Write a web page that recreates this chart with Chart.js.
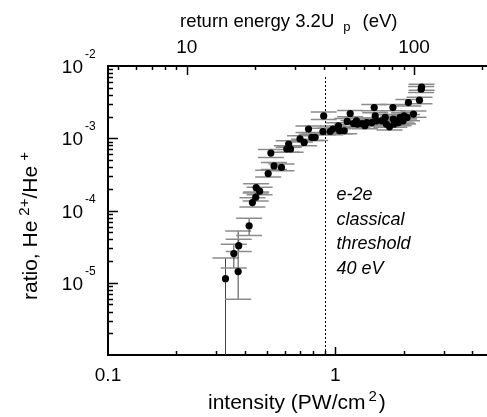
<!DOCTYPE html>
<html lang="en">
<head>
<meta charset="UTF-8">
<title>He2+/He+ ratio vs intensity</title>
<script src="https://cdn.jsdelivr.net/npm/chart.js"></script>
<style>
  html, body { margin: 0; padding: 0; overflow: hidden; background: #fff; }
</style>
</head>
<body>
<canvas id="ratioChart" width="510" height="417"></canvas>
<script>
    // intensity in PW/cm2, ratio He2+/He+, with lower/upper error bounds
    const intensity = [0.329, 0.358, 0.374, 0.376, 0.418, 0.432, 0.447, 0.449, 0.465, 0.507,
        0.521, 0.538, 0.580, 0.612, 0.624, 0.636, 0.70, 0.730, 0.763, 0.789,
        0.816, 0.883, 0.89, 0.95, 0.977, 1.034, 1.045, 1.096, 1.13, 1.164,
        1.204, 1.24, 1.252, 1.311, 1.35, 1.378, 1.45, 1.485, 1.50, 1.52,
        1.606, 1.66, 1.68, 1.734, 1.795, 1.80, 1.82, 1.87, 1.90, 1.93,
        1.96, 1.99, 2.01, 2.07, 2.10, 2.21, 2.35, 2.39, 2.40]
    const ratio = [1.14e-5, 2.53e-5, 1.43e-5, 3.26e-5, 6.15e-5, 1.29e-4, 1.53e-4, 2.07e-4, 1.85e-4, 3.24e-4,
        6.25e-4, 4.14e-4, 3.95e-4, 7.1e-4, 8.3e-4, 7.1e-4, 9.8e-4, 8.75e-4, 1.34e-3, 1.03e-3,
        1.03e-3, 1.24e-3, 2.04e-3, 1.24e-3, 1.34e-3, 1.49e-3, 1.27e-3, 1.27e-3, 1.71e-3, 2.2e-3,
        1.6e-3, 1.74e-3, 1.57e-3, 1.6e-3, 1.49e-3, 1.65e-3, 1.65e-3, 2.66e-3, 2.04e-3, 1.74e-3,
        1.74e-3, 1.94e-3, 1.57e-3, 1.44e-3, 2.66e-3, 1.84e-3, 1.57e-3, 1.74e-3, 1.65e-3, 1.94e-3,
        1.79e-3, 1.74e-3, 2.04e-3, 1.94e-3, 3.12e-3, 2.16e-3, 3.36e-3, 4.77e-3, 5.1e-3]
    const ratioLow = [1e-7, 1.6e-5, 5.9e-6, 2.7e-5, 4.5e-5, 1.12e-4, 1.35e-4, 1.8e-4, 1.65e-4, 2.9e-4,
        5.4e-4, 3.7e-4, 3.55e-4, 6.4e-4, 7.5e-4, 6.4e-4, 8.9e-4, 7.9e-4, 1.2e-3, 9.3e-4,
        9.3e-4, 1.12e-3, 1.82e-3, 1.12e-3, 1.21e-3, 1.35e-3, 1.15e-3, 1.15e-3, 1.55e-3, 1.98e-3,
        1.45e-3, 1.57e-3, 1.42e-3, 1.45e-3, 1.35e-3, 1.49e-3, 1.49e-3, 2.4e-3, 1.84e-3, 1.57e-3,
        1.57e-3, 1.75e-3, 1.42e-3, 1.3e-3, 2.4e-3, 1.66e-3, 1.42e-3, 1.57e-3, 1.49e-3, 1.75e-3,
        1.62e-3, 1.57e-3, 1.84e-3, 1.75e-3, 2.8e-3, 1.95e-3, 3.0e-3, 4.3e-3, 4.6e-3]
    const ratioHigh = [2.2e-5, 3.4e-5, 5.2e-5, 4.0e-5, 7.8e-5, 1.5e-4, 1.75e-4, 2.35e-4, 2.1e-4, 3.6e-4,
        7.0e-4, 4.6e-4, 4.4e-4, 7.9e-4, 9.2e-4, 7.9e-4, 1.08e-3, 9.7e-4, 1.48e-3, 1.14e-3,
        1.14e-3, 1.37e-3, 2.3e-3, 1.37e-3, 1.48e-3, 1.64e-3, 1.4e-3, 1.4e-3, 1.88e-3, 2.42e-3,
        1.76e-3, 1.91e-3, 1.73e-3, 1.76e-3, 1.64e-3, 1.82e-3, 1.82e-3, 2.93e-3, 2.25e-3, 1.91e-3,
        1.91e-3, 2.13e-3, 1.73e-3, 1.58e-3, 2.93e-3, 2.02e-3, 1.73e-3, 1.91e-3, 1.82e-3, 2.13e-3,
        1.97e-3, 1.91e-3, 2.25e-3, 2.13e-3, 3.43e-3, 2.38e-3, 3.7e-3, 5.2e-3, 5.6e-3]

    const thresholdIntensity = 0.9
    const noteLines = ['e-2e', 'classical', 'threshold', '40 eV']
    const energyPerIntensity = 45  // 3.2 Up in eV for 1 PW/cm2
    const xRange = [0.1, 5]
    const yRange = [1e-6, 1e-2]
    const yLabelExp = [-2, -3, -4, -5]
    const xMajorTicks = [1]
    const xMinorTicks = [0.2, 0.3, 0.4, 0.5, 0.6, 0.7, 0.8, 0.9, 2, 3, 4]
    const topMajorTicks = [10, 100]
    const topMinorTicks = [5, 6, 7, 8, 9, 20, 30, 40, 50, 60, 70, 80, 90, 200]
    const yMajorTicks = [1e-5, 1e-4, 1e-3]
    const yMinorTicks = []
    for (let d = -6; d < -2; d++) for (let m = 2; m < 10; m++) yMinorTicks.push(m * Math.pow(10, d))

    const FONT = "'Liberation Sans', Arial, sans-serif"

    // draws a row of text pieces, each with its own size and vertical shift
    function drawPieces(ctx, pieces, x, y) {
        ctx.textBaseline = 'alphabetic'
        ctx.textAlign = 'left'
        pieces.forEach(p => {
            ctx.font = (p.style || '') + ' ' + p.size + 'px ' + FONT
            x += p.gap || 0
            ctx.fillText(p.t, x, y + (p.dy || 0))
            x += ctx.measureText(p.t).width
        })
    }

    const errorBars = {
        id: 'errorBars',
        beforeDatasetsDraw(chart) {
            const { ctx, chartArea: a, scales: { x, y } } = chart
            ctx.save()
            ctx.beginPath()
            ctx.rect(a.left, a.top, a.right - a.left, a.bottom - a.top)
            ctx.clip()
            intensity.forEach((v, i) => {
                const px = x.getPixelForValue(v)
                const top = y.getPixelForValue(ratioHigh[i])
                const bot = Math.min(y.getPixelForValue(ratioLow[i]), a.bottom + 5)
                ctx.strokeStyle = '#444'
                ctx.lineWidth = 1
                ctx.beginPath()
                ctx.moveTo(px, top); ctx.lineTo(px, bot)
                ctx.stroke()
                ctx.strokeStyle = '#8c8c8c'
                ctx.lineWidth = 1.5
                ctx.beginPath()
                ctx.moveTo(px - 13, top); ctx.lineTo(px + 13, top)
                ctx.moveTo(px - 13, bot); ctx.lineTo(px + 13, bot)
                ctx.stroke()
            })
            ctx.restore()
        },
        afterDraw(chart) {
            const { ctx, chartArea: a, scales: { x, xTop, y } } = chart
            ctx.save()
            // inward tick marks
            ctx.strokeStyle = '#000'
            ctx.lineWidth = 1.5
            const vtick = (scale, vals, len, yEdge, dir) => vals.forEach(v => {
                const p = Math.round(scale.getPixelForValue(v)) + 0.5
                ctx.beginPath(); ctx.moveTo(p, yEdge); ctx.lineTo(p, yEdge + dir * len); ctx.stroke()
            })
            vtick(x, xMinorTicks, 4, a.bottom, -1)
            vtick(x, xMajorTicks, 8, a.bottom, -1)
            vtick(xTop, topMinorTicks, 4, a.top, 1)
            vtick(xTop, topMajorTicks, 9, a.top, 1)
            const htick = (vals, len) => vals.forEach(v => {
                const p = Math.round(y.getPixelForValue(v)) + 0.5
                ctx.beginPath(); ctx.moveTo(a.left, p); ctx.lineTo(a.left + len, p); ctx.stroke()
            })
            htick(yMinorTicks, 5)
            htick(yMajorTicks, 10)

            // threshold line
            const tx = Math.round(x.getPixelForValue(thresholdIntensity)) + 0.5
            ctx.setLineDash([2, 2])
            ctx.lineWidth = 1
            ctx.beginPath()
            ctx.moveTo(tx, a.top + 11); ctx.lineTo(tx, a.bottom)
            ctx.stroke()
            ctx.setLineDash([])

            ctx.fillStyle = '#000'
            noteLines.forEach((t, i) => {
                drawPieces(ctx, [{ t: t, size: 18, style: 'italic' }], tx + 11, 200 + i * 24.7)
            })

            // y tick labels with exponents
            yLabelExp.forEach(e => {
                const p = y.getPixelForValue(Math.pow(10, e))
                ctx.font = '19px ' + FONT
                ctx.textAlign = 'right'
                ctx.textBaseline = 'alphabetic'
                ctx.fillText('10', 83, p + 7)
                ctx.font = '12px ' + FONT
                ctx.textAlign = 'left'
                ctx.fillText(String(e), 85, p - 8)
            })

            // axis titles
            drawPieces(ctx, [
                { t: 'return energy 3.2U', size: 18.5 },
                { t: 'p', size: 13, gap: 9, dy: 4 },
                { t: '(eV)', size: 18.5, gap: 12 }
            ], 180, 27)
            drawPieces(ctx, [
                { t: 'intensity (PW/cm', size: 21 },
                { t: '2', size: 15, gap: 3, dy: -8 },
                { t: ')', size: 21, gap: 2 }
            ], 208, 409)
            ctx.translate(37, 300)
            ctx.rotate(-Math.PI / 2)
            drawPieces(ctx, [
                { t: 'ratio, He', size: 21 },
                { t: '2+', size: 15, gap: 5, dy: -8 },
                { t: '/He', size: 21 },
                { t: '+', size: 15, gap: 5, dy: -8 }
            ], 0, 0)
            ctx.restore()
        }
    }

    const tickFont = { family: FONT, size: 19 }

    new Chart(document.getElementById('ratioChart'), {
        type: 'scatter',
        data: {
            datasets: [{
                data: intensity.map((v, i) => ({ x: v, y: ratio[i] })),
                backgroundColor: '#000',
                borderWidth: 0,
                pointRadius: 3.6
            }]
        },
        options: {
            responsive: false,
            animation: false,
            layout: { padding: { right: 16 } },
            plugins: { legend: { display: false }, tooltip: { enabled: false } },
            scales: {
                x: {
                    type: 'logarithmic',
                    position: 'bottom',
                    min: xRange[0],
                    max: xRange[1],
                    afterFit: s => { s.height = 62 },
                    grid: { drawOnChartArea: false, drawTicks: false },
                    border: { color: '#000', width: 2 },
                    ticks: {
                        autoSkip: false, maxRotation: 0, padding: 9, color: '#000', font: tickFont,
                        callback: v => (v === 0.1 ? '0.1' : v === 1 ? '1' : '')
                    }
                },
                xTop: {
                    type: 'logarithmic',
                    position: 'top',
                    min: xRange[0] * energyPerIntensity,
                    max: xRange[1] * energyPerIntensity,
                    afterFit: s => { s.height = 66 },
                    grid: { drawOnChartArea: false, drawTicks: false },
                    border: { color: '#000', width: 2 },
                    ticks: {
                        autoSkip: false, maxRotation: 0, padding: 7, color: '#000', font: tickFont,
                        callback: v => (v === 10 ? '10' : v === 100 ? '100' : '')
                    }
                },
                y: {
                    type: 'logarithmic',
                    min: yRange[0],
                    max: yRange[1],
                    afterFit: s => { s.width = 108 },
                    grid: { drawOnChartArea: false, drawTicks: false },
                    border: { color: '#000', width: 2 },
                    ticks: { display: false }
                }
            }
        },
        plugins: [errorBars]
    })
</script>
</body>
</html>
